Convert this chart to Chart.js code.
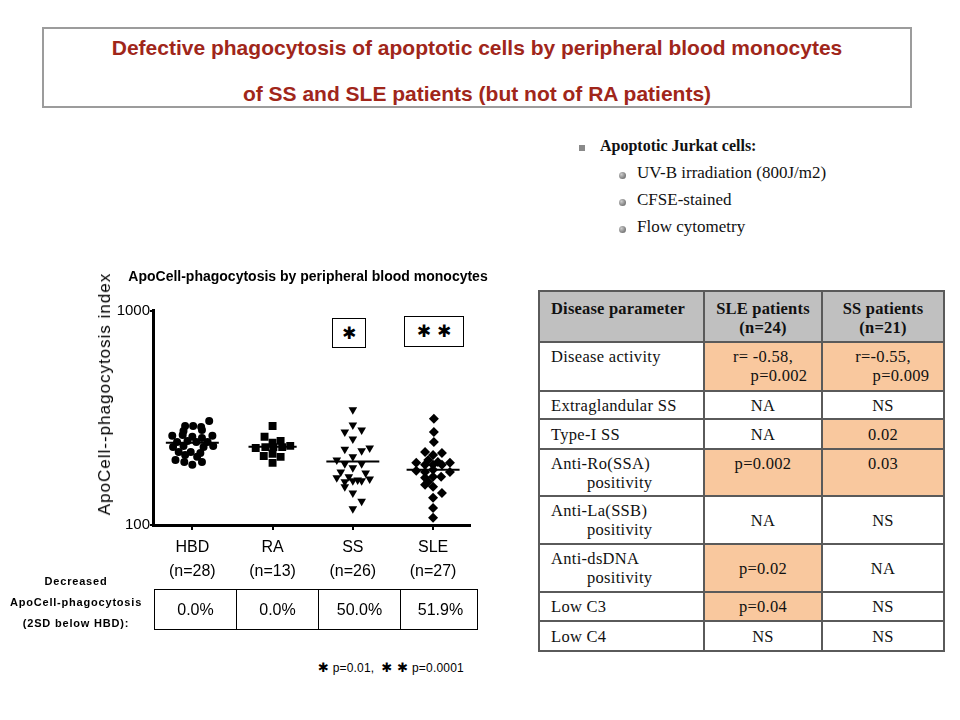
<!DOCTYPE html>
<html>
<head>
<meta charset="utf-8">
<script src="https://cdn.jsdelivr.net/npm/chart.js@4/dist/chart.umd.min.js"></script>
<style>
  body { margin: 0; background: #fff; }
  #page { position: relative; width: 960px; height: 720px; overflow: hidden; font-family: "Liberation Sans", Arial, sans-serif; }
  .abs { position: absolute; }
  #headline { left: 42px; top: 27px; width: 866px; height: 77px; border: 2px solid #9c9c9c; }
  #headline div { position: absolute; left: 0; width: 100%; text-align: center; color: #a0261a; font-weight: bold; font-size: 21px; }
  #notes { left: 578px; top: 136px; font-family: "Liberation Serif", serif; font-size: 17px; color: #111; }
  #notes .lvl1 { position: absolute; left: 22px; top: 1px; white-space: nowrap; font-weight: bold; font-size: 16px; }
  #notes .sq { position: absolute; left: 1px; top: 9px; width: 6px; height: 6px; background: #8a8a8a; }
  #notes .lvl2 { position: absolute; left: 59px; white-space: nowrap; }
  #notes .dot { position: absolute; left: 41px; width: 7px; height: 7px; border-radius: 50%; background: radial-gradient(circle at 35% 35%, #ccc, #555); }
  #ytitle { left: 105px; top: 394px; transform: translate(-50%, -50%) rotate(-90deg); white-space: nowrap; font-size: 17px; letter-spacing: 1px; color: #000; }
  .sig { border: 1px solid #000; background: #fff; text-align: center; font-family: "DejaVu Sans", sans-serif; font-size: 17px; font-weight: bold; }
  #pct { left: 154px; top: 589px; width: 322px; height: 39px; border: 1.5px solid #000; display: flex; }
  #pct div { flex: none; height: 100%; line-height: 40px; text-align: center; font-size: 16px; border-left: 1.5px solid #000; }
  #pct div:first-child { border-left: none; }
  #pctlabel { left: 0; top: 571px; width: 152px; text-align: center; font-size: 11px; font-weight: bold; letter-spacing: 0.8px; line-height: 21px; }
  #foot { left: 318px; top: 660px; font-size: 12px; white-space: nowrap; letter-spacing: 0.2px; }
  #foot b { font-family: "DejaVu Sans", sans-serif; font-size: 13px; }
  #params { left: 538px; top: 290px; border-collapse: collapse; font-family: "Liberation Serif", serif; font-size: 16.5px; letter-spacing: 0.3px; color: #111; }
  #params td { border: 2px solid #5a5a5a; padding: 0 0 0 11px; line-height: 19px; white-space: nowrap; }
  #params td.v { text-align: center; padding: 0; }
  #params tr.head td { background: #c0c0c0; font-weight: bold; vertical-align: top; padding-top: 7px; letter-spacing: 0.2px; }
  #params td.hi { background: #f9c89e; }
  #params td.top { vertical-align: top; padding-top: 4px; }
  .ind { padding-left: 36px; }
</style>
</head>
<body>
<div id="page">
  <div id="headline" class="abs">
    <div style="top:7px">Defective phagocytosis of apoptotic cells by peripheral blood monocytes</div>
    <div style="top:53px">of SS and SLE patients (but not of RA patients)</div>
  </div>

  <div id="notes" class="abs">
    <div class="sq"></div>
    <div class="lvl1">Apoptotic Jurkat cells:</div>
    <div class="dot" style="top:36px"></div><div class="lvl2" style="top:27px">UV-B irradiation (800J/m2)</div>
    <div class="dot" style="top:63px"></div><div class="lvl2" style="top:54px">CFSE-stained</div>
    <div class="dot" style="top:90px"></div><div class="lvl2" style="top:81px">Flow cytometry</div>
  </div>

  <canvas id="chart" class="abs" style="left:90px; top:262px; width:436px; height:322px;"></canvas>
  <div id="ytitle" class="abs">ApoCell--phagocytosis index</div>
  <div class="abs sig" style="left:332px; top:318px; width:32px; height:28px; line-height:28px;">✱</div>
  <div class="abs sig" style="left:404px; top:316px; width:58px; height:29px; line-height:29px;">✱ ✱</div>

  <div id="pctlabel" class="abs">Decreased<br>ApoCell-phagocytosis<br>(2SD below HBD):</div>
  <div id="pct" class="abs"></div>
  <div id="foot" class="abs"><b>✱</b> p=0.01, &nbsp;<b>✱ ✱</b> p=0.0001</div>

  <table id="params" class="abs">
    <colgroup><col style="width:165px"><col style="width:118px"><col style="width:122px"></colgroup>
    <tr class="head" style="height:51px"><td>Disease parameter</td><td class="v">SLE patients<br>(n=24)</td><td class="v">SS patients<br>(n=21)</td></tr>
    <tr style="height:49px"><td class="top">Disease activity</td><td class="v hi top">r= -0.58,<br><span style="margin-left:32px">p=0.002</span></td><td class="v hi top">r=-0.55,<br><span style="margin-left:36px">p=0.009</span></td></tr>
    <tr style="height:28px"><td>Extraglandular SS</td><td class="v">NA</td><td class="v">NS</td></tr>
    <tr style="height:30px"><td>Type-I SS</td><td class="v">NA</td><td class="v hi">0.02</td></tr>
    <tr style="height:47px"><td class="top">Anti-Ro(SSA)<br><span class="ind">positivity</span></td><td class="v hi top">p=0.002</td><td class="v hi top">0.03</td></tr>
    <tr style="height:48px"><td>Anti-La(SSB)<br><span class="ind">positivity</span></td><td class="v">NA</td><td class="v">NS</td></tr>
    <tr style="height:48px"><td>Anti-dsDNA<br><span class="ind">positivity</span></td><td class="v hi">p=0.02</td><td class="v">NA</td></tr>
    <tr style="height:29px"><td>Low C3</td><td class="v hi">p=0.04</td><td class="v">NS</td></tr>
    <tr style="height:30px"><td>Low C4</td><td class="v">NS</td><td class="v">NS</td></tr>
  </table>
</div>

<script>
/* Dot plot: phagocytosis index per group, log scale */

const groups = ["HBD", "RA", "SS", "SLE"];
const groupSizes = ["(n=28)", "(n=13)", "(n=26)", "(n=27)"];
const decreasedPct = ["0.0%", "0.0%", "50.0%", "51.9%"];
const medians = [242, 232, 198, 181];

const hbdValues = [306, 290, 290, 287, 275, 278, 261, 263, 258, 255, 261, 244, 247, 244,
  244, 231, 234, 231, 234, 219, 219, 217, 212, 208, 201, 197, 197, 191];
const hbdSpread = [0.21, -0.09, 0.01, 0.11, -0.11, 0.12, -0.25, -0.12, 0, 0.12, 0.25, -0.19, -0.06, 0.05,
  0.19, -0.24, -0.11, 0.14, 0.26, -0.17, -0.02, 0.10, -0.09, 0.06, -0.21, -0.10, 0.12, 0];

const raValues = [290, 258, 242, 247, 229, 231, 231, 231, 234, 210, 215, 208, 195];
const raSpread = [0, -0.10, 0, 0.10, -0.21, -0.09, 0.01, 0.12, 0.22, -0.11, 0, 0.10, 0];

const ssValues = [345, 293, 272, 278, 252, 226, 222, 229, 208, 201, 193, 193, 185,
  177, 175, 166, 168, 162, 159, 161, 161, 164, 151, 141, 129, 119];
const ssSpread = [0, 0, -0.10, 0.11, 0, -0.10, 0.11, 0.21, 0, -0.20, -0.10, 0.11, 0,
  -0.15, 0.16, -0.20, -0.05, 0.06, -0.10, 0, 0.11, 0.21, -0.10, 0, 0.11, 0];

const sleValues = [313, 272, 244, 219, 217, 212, 201, 197, 195, 195, 191, 191, 191, 179,
  177, 181, 177, 166, 168, 168, 159, 154, 151, 141, 134, 120, 108];
const sleSpread = [0.01, 0.01, 0.01, -0.10, 0.11, 0, -0.06, 0.06, -0.21, 0.21, -0.10, 0, 0.11, -0.21,
  -0.10, 0, 0.21, -0.10, 0, 0.10, -0.06, -0.10, 0, 0.11, 0, 0, 0];

const pctBox = document.getElementById("pct");
const cellWidths = [81, 81, 81, 79];
pctBox.innerHTML = decreasedPct
  .map((p, i) => `<div style="width:${cellWidths[i]}px">${p}</div>`)
  .join("");

function toPoints(values, spread, idx) {
  return values.map((v, i) => ({ x: idx + spread[i], y: v }));
}

const markerStyles = [
  { pointStyle: "circle", radius: 4, rotation: 0 },
  { pointStyle: "rect", radius: 5.6, rotation: 0 },
  { pointStyle: "triangle", radius: 5, rotation: 180 },
  { pointStyle: "rectRot", radius: 5, rotation: 0 },
];

const groupData = [
  [hbdValues, hbdSpread],
  [raValues, raSpread],
  [ssValues, ssSpread],
  [sleValues, sleSpread],
];

const datasets = groupData.map(([vals, spread], i) => ({
  label: groups[i],
  data: toPoints(vals, spread, i),
  pointStyle: markerStyles[i].pointStyle,
  pointRadius: markerStyles[i].radius,
  pointRotation: markerStyles[i].rotation,
  pointBackgroundColor: "#000",
  pointBorderColor: "#000",
  pointBorderWidth: 0,
  showLine: false,
}));

medians.forEach((m, i) => {
  const half = i === 1 ? 0.3 : 0.33;
  datasets.push({
    label: groups[i] + " median",
    data: [{ x: i - half, y: m }, { x: i + half, y: m }],
    showLine: true,
    borderColor: "#000",
    borderWidth: 2,
    pointRadius: 0,
  });
});

const ctx = document.getElementById("chart").getContext("2d");
new Chart(ctx, {
  type: "scatter",
  data: { datasets },
  options: {
    responsive: false,
    animation: false,
    devicePixelRatio: 1,
    layout: { padding: 0 },
    plugins: {
      legend: { display: false },
      tooltip: { enabled: false },
      title: {
        display: true,
        text: "ApoCell-phagocytosis by peripheral blood monocytes",
        color: "#000",
        font: { family: "Liberation Sans", size: 14, weight: "bold" },
        padding: { top: 7, bottom: 25 },
      },
    },
    scales: {
      x: {
        type: "linear",
        min: -0.49,
        max: 3.46,
        afterBuildTicks: (scale) => {
          scale.ticks = groups.map((g, i) => ({ value: i }));
        },
        afterFit: (scale) => {
          scale.height = 59;
        },
        ticks: {
          color: "#000",
          font: { family: "Liberation Sans", size: 16, lineHeight: 1.5 },
          padding: 6,
          maxRotation: 0,
          callback: (v) => [groups[v], groupSizes[v]],
        },
        grid: { drawOnChartArea: false, color: "#000", lineWidth: 2, tickLength: 5 },
        border: { color: "#000", width: 3 },
      },
      y: {
        type: "logarithmic",
        min: 100,
        max: 1000,
        afterBuildTicks: (scale) => {
          scale.ticks = [{ value: 100 }, { value: 1000 }];
        },
        afterFit: (scale) => {
          scale.width = 63;
        },
        ticks: {
          color: "#000",
          font: { family: "Liberation Sans", size: 15 },
          padding: 0,
          callback: (v) => String(v),
        },
        grid: { drawOnChartArea: false, color: "#000", lineWidth: 2, tickLength: 3 },
        border: { color: "#000", width: 3 },
      },
      // empty right-hand gutter so the title centres over the whole plot block
      gutter: {
        type: "linear",
        position: "right",
        afterFit: (scale) => {
          scale.width = 56;
        },
        ticks: { display: false },
        grid: { display: false },
        border: { display: false },
      },
    },
  },
});
</script>
</body>
</html>
